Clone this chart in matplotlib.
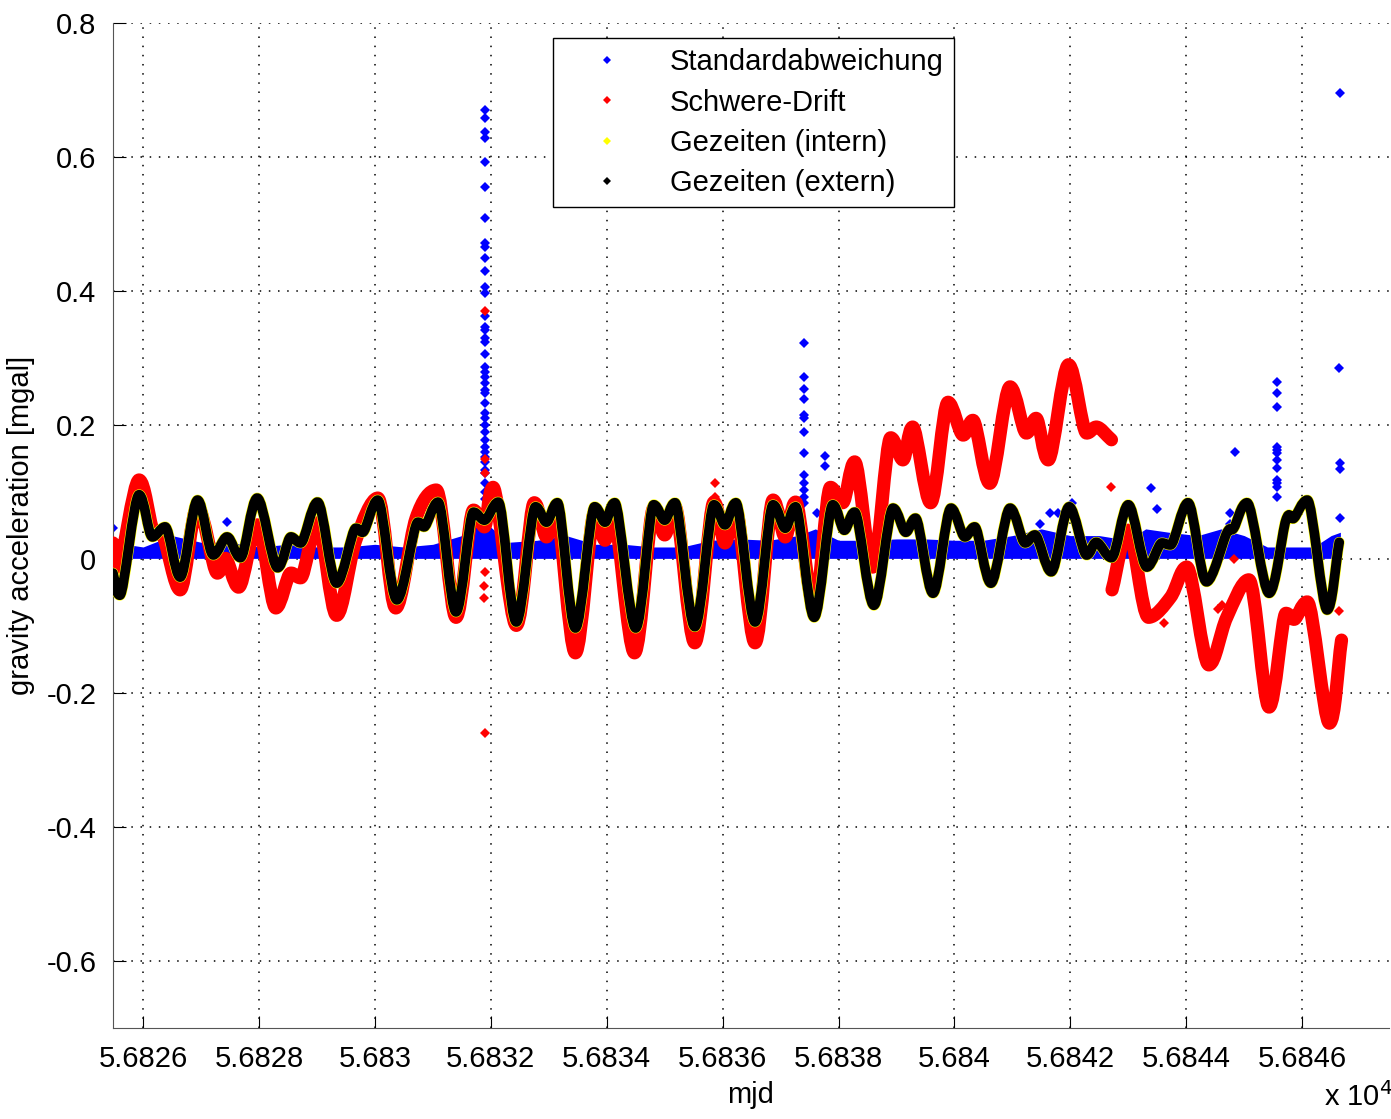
import numpy as np
import matplotlib
matplotlib.use('Agg')
import matplotlib.pyplot as plt
from matplotlib.path import Path
from matplotlib.patches import PathPatch

plt.rcParams['font.family'] = ['Liberation Sans', 'DejaVu Sans']

# Gezeiten (extern / intern)
tide_mjd = [56825.48, 56825.60, 56825.93, 56826.16, 56826.38, 56826.64, 56826.94, 56827.21,
            56827.45, 56827.68, 56827.97, 56828.32, 56828.55, 56828.72, 56829.01, 56829.34,
            56829.67, 56829.79, 56830.05, 56830.38, 56830.74, 56830.85, 56831.09, 56831.40,
            56831.70, 56831.89, 56832.13, 56832.44, 56832.77, 56832.96, 56833.15, 56833.46,
            56833.79, 56833.97, 56834.14, 56834.50, 56834.81, 56835.00, 56835.18, 56835.52,
            56835.85, 56836.04, 56836.23, 56836.56, 56836.87, 56837.08, 56837.26, 56837.58,
            56837.90, 56838.10, 56838.28, 56838.61, 56838.94, 56839.16, 56839.33, 56839.63,
            56839.94, 56840.18, 56840.35, 56840.63, 56840.96, 56841.22, 56841.39, 56841.67,
            56841.98, 56842.28, 56842.45, 56842.71, 56843.00, 56843.32, 56843.58, 56843.73,
            56844.03, 56844.35, 56844.70, 56844.82, 56845.05, 56845.43, 56845.72, 56845.86,
            56846.09, 56846.43, 56846.64]
tide_val = [-0.021, -0.054, 0.096, 0.033, 0.048, -0.027, 0.088, 0.006,
            0.033, 0.002, 0.091, -0.013, 0.033, 0.024, 0.085, -0.036,
            0.046, 0.040, 0.088, -0.061, 0.055, 0.048, 0.085, -0.079,
            0.070, 0.058, 0.085, -0.094, 0.078, 0.055, 0.084, -0.103,
            0.078, 0.055, 0.084, -0.103, 0.081, 0.058, 0.084, -0.101,
            0.081, 0.051, 0.084, -0.094, 0.081, 0.046, 0.078, -0.087,
            0.081, 0.043, 0.070, -0.069, 0.076, 0.040, 0.061, -0.051,
            0.076, 0.033, 0.048, -0.036, 0.076, 0.024, 0.036, -0.019,
            0.078, 0.006, 0.025, 0.002, 0.081, -0.012, 0.024, 0.021,
            0.084, -0.034, 0.039, 0.046, 0.084, -0.051, 0.058, 0.061,
            0.088, -0.076, 0.025]

# Schwere-Drift, two pieces
drift1_mjd = [56825.48, 56825.57, 56825.93, 56826.17, 56826.35, 56826.64, 56826.94, 56827.28,
              56827.42, 56827.65, 56827.97, 56828.29, 56828.55, 56828.72, 56829.01, 56829.34,
              56829.67, 56830.05, 56830.36, 56830.71, 56831.06, 56831.40, 56831.70, 56831.89,
              56832.04, 56832.44, 56832.75, 56832.96, 56833.13, 56833.46, 56833.79, 56833.97,
              56834.12, 56834.48, 56834.81, 56835.00, 56835.18, 56835.52, 56835.85, 56836.04,
              56836.23, 56836.56, 56836.87, 56837.08, 56837.26, 56837.58, 56837.86, 56838.07,
              56838.28, 56838.59, 56838.90, 56839.11, 56839.28, 56839.59, 56839.89, 56840.15,
              56840.32, 56840.61, 56840.96, 56841.24, 56841.41, 56841.62, 56841.97, 56842.28,
              56842.45, 56842.71]
drift1_val = [0.024, -0.012, 0.118, 0.043, 0.033, -0.046, 0.078, -0.021,
              0.001, -0.042, 0.051, -0.073, -0.021, -0.028, 0.054, -0.084,
              0.028, 0.091, -0.073, 0.061, 0.103, -0.087, 0.073, 0.048,
              0.107, -0.099, 0.084, 0.033, 0.073, -0.140, 0.069, 0.028,
              0.066, -0.140, 0.076, 0.036, 0.078, -0.125, 0.085, 0.024,
              0.073, -0.125, 0.088, 0.033, 0.085, -0.072, 0.107, 0.084,
              0.145, -0.012, 0.181, 0.148, 0.197, 0.084, 0.234, 0.185,
              0.207, 0.113, 0.257, 0.188, 0.210, 0.148, 0.290, 0.188,
              0.197, 0.178]
drift2_mjd = [56842.72, 56843.00, 56843.35, 56843.73, 56844.01, 56844.39, 56844.70, 56845.08,
              56845.43, 56845.72, 56845.86, 56846.09, 56846.47, 56846.68]
drift2_val = [-0.046, 0.043, -0.087, -0.057, -0.012, -0.158, -0.087, -0.031,
              -0.221, -0.081, -0.090, -0.064, -0.245, -0.121]
drift_out_mjd = [56831.90, 56831.90, 56831.89, 56831.89, 56831.90, 56831.90, 56831.90,
                 56835.87, 56835.87, 56842.71, 56844.82, 56846.64,
                 56843.50, 56843.62, 56844.55, 56844.62]
drift_out_val = [0.370, -0.260, -0.058, -0.040, -0.020, 0.128, 0.150,
                 0.113, 0.093, 0.107, 0.000, -0.078,
                 -0.085, -0.095, -0.075, -0.068]

# Standardabweichung: dense band plus isolated outliers
std_mjd = [56825.48, 56826.0, 56826.5, 56827.0, 56827.5, 56828.0, 56828.5, 56829.0,
           56829.5, 56830.0, 56830.5, 56831.0, 56831.5, 56831.9, 56832.3, 56832.8,
           56833.3, 56833.8, 56834.3, 56834.8, 56835.3, 56835.8, 56836.3, 56836.8,
           56837.3, 56837.6, 56838.0, 56838.5, 56839.0, 56839.5, 56840.0, 56840.5,
           56841.0, 56841.5, 56842.0, 56842.5, 56843.0, 56843.3, 56843.7, 56844.2,
           56844.6, 56845.0, 56845.4, 56845.8, 56846.2, 56846.5, 56846.66]
std_hi = [0.025, 0.018, 0.035, 0.025, 0.025, 0.018, 0.022, 0.018,
          0.018, 0.022, 0.018, 0.022, 0.035, 0.055, 0.025, 0.028,
          0.035, 0.022, 0.022, 0.018, 0.018, 0.028, 0.030, 0.028,
          0.035, 0.045, 0.028, 0.028, 0.030, 0.030, 0.028, 0.028,
          0.035, 0.045, 0.035, 0.035, 0.028, 0.045, 0.040, 0.035,
          0.045, 0.035, 0.018, 0.018, 0.018, 0.035, 0.040]
std_lo = [0.001] * len(std_mjd)
std_out_mjd = ([56831.90] * 40 +
               [56837.41] * 13 + [56837.77, 56837.77, 56837.63] +
               [56845.57] * 12 +
               [56846.66, 56846.64, 56846.66, 56846.66, 56846.66,
                56844.84, 56844.76, 56844.76, 56843.39, 56843.49,
                56825.48, 56827.45, 56831.72, 56835.94, 56833.72,
                56842.03, 56841.65, 56841.78, 56841.48])
std_out_val = ([0.670, 0.658, 0.637, 0.628, 0.593, 0.555, 0.509, 0.472, 0.466, 0.449,
                0.430, 0.406, 0.397, 0.363, 0.346, 0.342, 0.330, 0.324, 0.306, 0.287,
                0.279, 0.272, 0.263, 0.252, 0.248, 0.233, 0.218, 0.210, 0.200, 0.190,
                0.178, 0.167, 0.160, 0.152, 0.145, 0.133, 0.128, 0.113, 0.100, 0.090] +
               [0.322, 0.272, 0.254, 0.239, 0.215, 0.210, 0.190, 0.158, 0.125, 0.113,
                0.103, 0.093, 0.084] + [0.154, 0.139, 0.069] +
               [0.264, 0.248, 0.227, 0.167, 0.163, 0.158, 0.148, 0.136, 0.118, 0.113,
                0.107, 0.093] +
               [0.696, 0.285, 0.143, 0.134, 0.061,
                0.160, 0.069, 0.052, 0.106, 0.075,
                0.046, 0.055, 0.055, 0.046, 0.043,
                0.084, 0.069, 0.069, 0.052])

yticks = [-0.6, -0.4, -0.2, 0, 0.2, 0.4, 0.6, 0.8]
xticks = list(range(56826, 56847, 2))


def smooth_path(x, y):
    # bezier path through the read points; flat tangent at turning points
    x = np.asarray(x, float)
    y = np.asarray(y, float)
    n = len(x)
    tx = np.zeros(n)
    ty = np.zeros(n)
    for i in range(n):
        a = max(i - 1, 0)
        b = min(i + 1, n - 1)
        tx[i] = (x[b] - x[a]) / (b - a)
        ty[i] = (y[b] - y[a]) / (b - a)
        if 0 < i < n - 1 and (y[i] - y[a]) * (y[b] - y[i]) <= 0:
            ty[i] = 0.0
    verts = [(x[0], y[0])]
    codes = [Path.MOVETO]
    for i in range(n - 1):
        verts += [(x[i] + tx[i] / 3, y[i] + ty[i] / 3),
                  (x[i + 1] - tx[i + 1] / 3, y[i + 1] - ty[i + 1] / 3),
                  (x[i + 1], y[i + 1])]
        codes += [Path.CURVE4] * 3
    return Path(verts, codes)


def add_curve(ax, x, y, color, lw, z):
    ax.add_patch(PathPatch(smooth_path(x, y), fill=False, edgecolor=color, lw=lw,
                           capstyle='round', joinstyle='round', zorder=z))


fig = plt.figure(figsize=(13.91, 11.19), dpi=100)
ax = fig.add_axes([0.0812, 0.0813, 0.9174, 0.8981])

ax.fill_between(std_mjd, std_lo, std_hi, color='blue', lw=0, zorder=2)
ax.plot(std_out_mjd, std_out_val, 'D', color='blue', ms=5, mew=0, zorder=2)

add_curve(ax, drift1_mjd, drift1_val, 'red', 9.5, 3)
add_curve(ax, drift2_mjd, drift2_val, 'red', 9.5, 3)
ax.plot(drift_out_mjd, drift_out_val, 'D', color='red', ms=5, mew=0, zorder=3)

add_curve(ax, tide_mjd, tide_val, 'yellow', 7.8, 4)
add_curve(ax, tide_mjd, tide_val, 'black', 7.0, 5)

# legend proxies
for c, lab in [('blue', 'Standardabweichung'), ('red', 'Schwere-Drift'),
               ('yellow', 'Gezeiten (intern)'), ('black', 'Gezeiten (extern)')]:
    ax.plot([], [], 'D', color=c, ms=4, mew=0, label=lab)
leg = ax.legend(loc='upper left', bbox_to_anchor=(0.345, 0.985), borderaxespad=0,
                fontsize=21, fancybox=False, framealpha=1, edgecolor='black',
                handlelength=3.0, handletextpad=0.65, labelspacing=0.42,
                borderpad=0.35)
leg.get_frame().set_linewidth(1.0)

ax.set_xlim(56825.48, 56847.5)
ax.set_ylim(-0.7, 0.8)
ax.set_xticks(xticks)
ax.set_xticklabels(['%g' % (v / 1e4) for v in xticks])
ax.set_yticks(yticks)
ax.set_yticklabels(['%g' % v for v in yticks])
ax.tick_params(direction='in', length=9, labelsize=21, pad=12, width=0.8)
ax.grid(True, linestyle=(0, (1, 5)), color='black', linewidth=1.1)
ax.set_axisbelow(True)
ax.spines['top'].set_visible(False)
ax.spines['right'].set_visible(False)
ax.spines['left'].set_color('#555555')
ax.spines['bottom'].set_color('#555555')

ax.set_xlabel('mjd', fontsize=21, labelpad=6)
ax.set_ylabel('gravity acceleration [mgal]', fontsize=21, labelpad=8)
fig.text(0.952, 0.012, r'x 10$^4$', fontsize=21)

fig.savefig('out.png', dpi=100)
